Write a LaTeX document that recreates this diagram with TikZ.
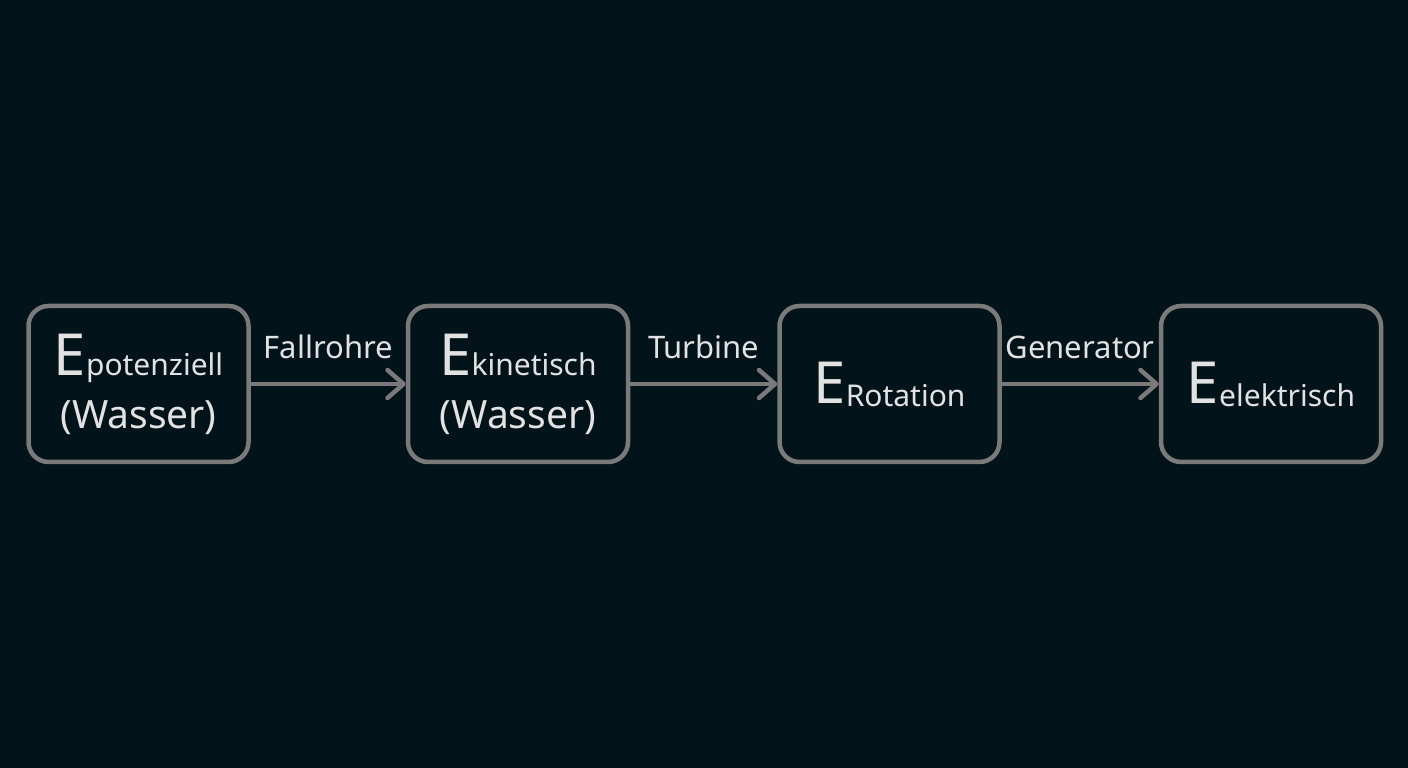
\documentclass[tikz,border=0pt]{standalone}
\usepackage{fontspec}
\setmainfont{Noto Sans}
\usetikzlibrary{arrows.meta}
\definecolor{bgdark}{HTML}{03131A}
\definecolor{boxgray}{HTML}{7A7A7A}
\definecolor{txtlight}{HTML}{E2E2E2}
\newcommand{\bigE}{{\fontsize{58}{53}\selectfont E}}
\newcommand{\subtxt}[1]{{\fontsize{30}{53}\selectfont #1}}
\newcommand{\wtxt}[1]{{\fontsize{39}{53}\selectfont #1}}

\begin{document}
\begin{tikzpicture}[x=1pt, y=1pt,
    energybox/.style={draw=boxgray, line width=4.5pt, rounded corners=20pt,
      minimum width=220pt, minimum height=156pt, align=center,
      text=txtlight, inner sep=0pt, font=\fontsize{39}{53}\selectfont},
    flow/.style={draw=boxgray, line width=4.5pt,
      -{Straight Barb[length=16pt, width=28pt, line width=4.5pt, round]}},
    flowlabel/.style={midway, anchor=base, yshift=25pt, text=txtlight,
      font=\fontsize{31}{34}\selectfont}]
      %% Background and frame
      \fill[bgdark] (0,0) rectangle (1408,768);
      \useasboundingbox (0,0) rectangle (1408,768);

      %% Energy forms
      \node[energybox] (epot) at (138.5,384)
        {\bigE\subtxt{potenziell}\\\wtxt{(Wasser)}};
      \node[energybox] (ekin) at (518,384)
        {\bigE\subtxt{kinetisch}\\\wtxt{(Wasser)}};
      \node[energybox] (erot) at (889.5,384)
        {\bigE\raisebox{-3pt}{\subtxt{Rotation}}};
      \node[energybox] (eel) at (1271,384)
        {\bigE\raisebox{-3pt}{\subtxt{elektrisch}}};

      %% Conversions
      \draw[flow] (epot.east) -- (ekin.west) node[flowlabel] {Fallrohre};
      \draw[flow] (ekin.east) -- (erot.west) node[flowlabel] {Turbine};
      \draw[flow] (erot.east) -- (eel.west) node[flowlabel] {Generator};
    \end{tikzpicture}
\end{document}
